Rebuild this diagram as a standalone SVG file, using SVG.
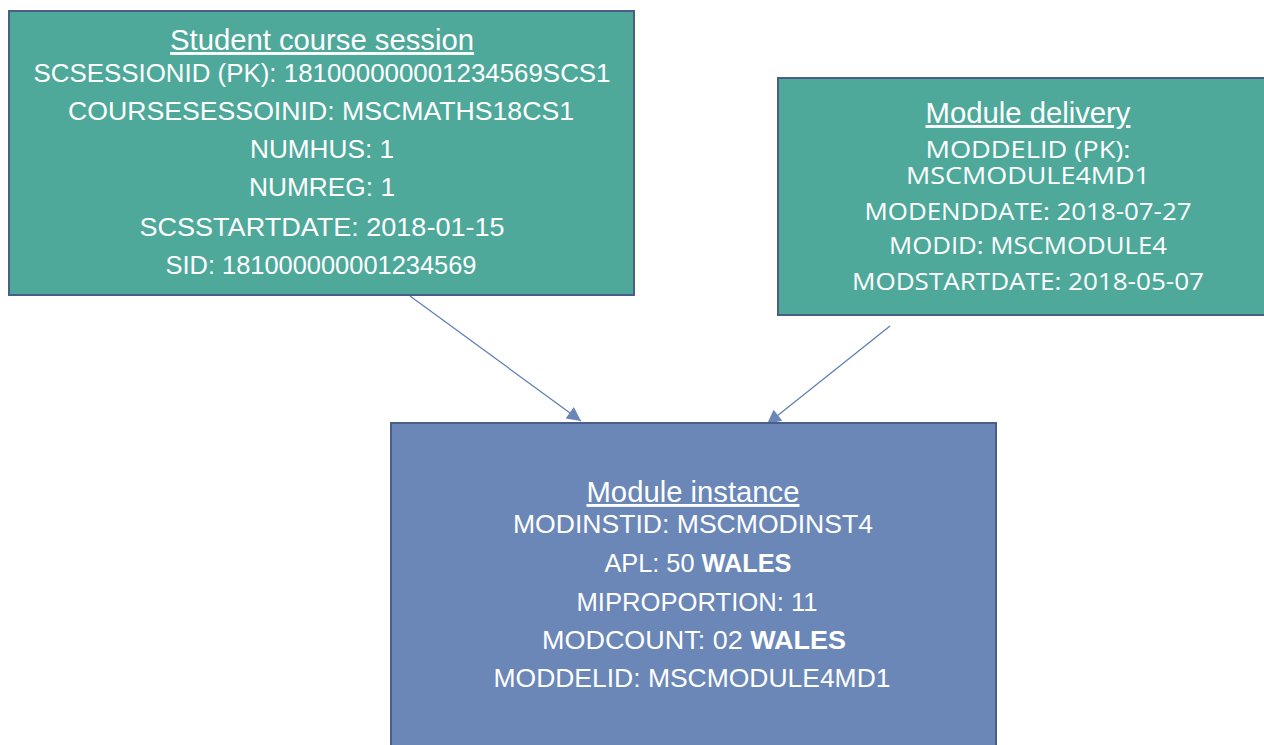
<svg xmlns="http://www.w3.org/2000/svg" width="1264" height="745" viewBox="0 0 1264 745">
<defs>
<style>
.box{stroke:#4a5e86;stroke-width:2}
.teal{fill:#4ea99a}
.blue{fill:#6a87b8}
.t{font-family:"Liberation Sans",Arial,sans-serif;font-size:26px;fill:#ffffff;text-anchor:middle}
.h{font-size:29px;text-decoration:underline}
.o{font-family:"Open Sans","Noto Sans",sans-serif;font-size:24px;fill:#ffffff;text-anchor:middle}
.b{font-weight:bold}
.c{stroke:#5b7cb5;stroke-width:1.2;fill:none}
</style>
<marker id="ah" viewBox="0 0 10 10" refX="10" refY="5" markerWidth="16" markerHeight="14" markerUnits="userSpaceOnUse" orient="auto">
<path d="M0,0 L10,5 L0,10 z" fill="#6a87b8"/>
</marker>
</defs>
<rect width="1264" height="745" fill="#ffffff"/>
<g id="connectors">
<line class="c" x1="410" y1="296" x2="581" y2="421" marker-end="url(#ah)"/>
<line class="c" x1="890" y1="326" x2="767" y2="424" marker-end="url(#ah)"/>
</g>
<g id="student-course-session">
<rect class="box teal" x="9" y="11" width="625" height="284"/>
<text class="t h" x="322" y="50" textLength="304" lengthAdjust="spacingAndGlyphs">Student course session</text>
<text class="t" x="322" y="82" textLength="577" lengthAdjust="spacingAndGlyphs">SCSESSIONID (PK): 181000000001234569SCS1</text>
<text class="t" x="321" y="120" textLength="506" lengthAdjust="spacingAndGlyphs">COURSESESSOINID: MSCMATHS18CS1</text>
<text class="t" x="322" y="158" textLength="144" lengthAdjust="spacingAndGlyphs">NUMHUS: 1</text>
<text class="t" x="322" y="196" textLength="146" lengthAdjust="spacingAndGlyphs">NUMREG: 1</text>
<text class="t" x="322" y="236" textLength="365" lengthAdjust="spacingAndGlyphs">SCSSTARTDATE: 2018-01-15</text>
<text class="t" x="321" y="274" textLength="311" lengthAdjust="spacingAndGlyphs">SID: 181000000001234569</text>
</g>
<g id="module-delivery">
<rect class="box teal" x="778" y="78" width="490" height="237"/>
<text class="t h" x="1028" y="123" textLength="205" lengthAdjust="spacingAndGlyphs">Module delivery</text>
<text class="o" x="1028" y="158" textLength="205" lengthAdjust="spacingAndGlyphs">MODDELID (PK):</text>
<text class="o" x="1028" y="184" textLength="244" lengthAdjust="spacingAndGlyphs">MSCMODULE4MD1</text>
<text class="o" x="1028" y="220" textLength="327" lengthAdjust="spacingAndGlyphs">MODENDDATE: 2018-07-27</text>
<text class="o" x="1028" y="254" textLength="278" lengthAdjust="spacingAndGlyphs">MODID: MSCMODULE4</text>
<text class="o" x="1028" y="290" textLength="352" lengthAdjust="spacingAndGlyphs">MODSTARTDATE: 2018-05-07</text>
</g>
<g id="module-instance">
<rect class="box blue" x="391" y="423" width="605" height="330"/>
<text class="t h" x="693" y="502" textLength="213" lengthAdjust="spacingAndGlyphs">Module instance</text>
<text class="t" x="693" y="533" textLength="360" lengthAdjust="spacingAndGlyphs">MODINSTID: MSCMODINST4</text>
<text class="t" x="698" y="572" textLength="187" lengthAdjust="spacingAndGlyphs">APL: 50 <tspan class="b">WALES</tspan></text>
<text class="t" x="697" y="611" textLength="241" lengthAdjust="spacingAndGlyphs">MIPROPORTION: 11</text>
<text class="t" x="694" y="649" textLength="304" lengthAdjust="spacingAndGlyphs">MODCOUNT: 02 <tspan class="b">WALES</tspan></text>
<text class="t" x="692" y="687" textLength="397" lengthAdjust="spacingAndGlyphs">MODDELID: MSCMODULE4MD1</text>
</g>
</svg>
